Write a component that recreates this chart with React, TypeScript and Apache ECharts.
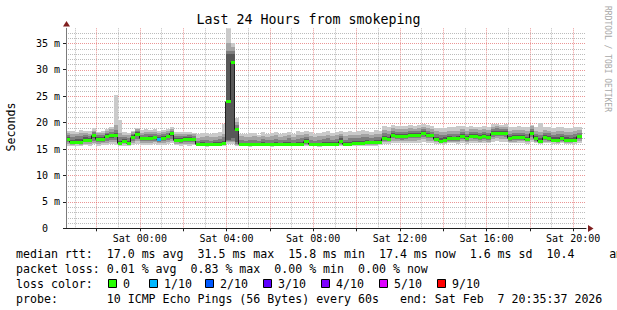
import React, { useEffect, useRef } from "react";
import * as echarts from "echarts";

// ---------- data (minutes relative to Sat 00:00) ----------
const START_MIN = -204.383; // Fri 20:35:37
const END_MIN = 1235.617; // Sat 20:35:37
const BIN_MIN = 12;
const FIRST_BIN = -204; // Fri 20:36

const medianMs = [
  16.9, 16.4, 16.4, 16.4, 16.8, 16.8, 17.6, 16.9, 16.9, 17.5,
  17.6, 17.6, 16.2, 16.6, 16.2, 17.3, 17.9, 17.0, 17.0, 17.1,
  17.2, 16.9, 17.1, 17.4, 18.0, 16.8, 16.8, 16.9, 16.9, 16.9,
  15.9, 15.9, 15.9, 15.9, 16.0, 16.0, 16.2, 24.0, 31.5, 18.8,
  15.9, 15.9, 15.9, 15.9, 15.9, 16.0, 15.9, 15.9, 16.0, 15.9,
  16.0, 16.0, 15.9, 16.0, 16.0, 16.5, 15.9, 15.9, 15.9, 16.0,
  16.0, 16.0, 16.0, 16.6, 16.0, 16.0, 16.1, 16.2, 16.2, 16.3,
  16.3, 16.3, 16.4, 17.0, 16.9, 17.7, 17.5, 17.4, 17.5, 17.6,
  17.6, 17.7, 18.0, 17.6, 17.6, 16.9, 16.5, 16.8, 17.0, 17.0,
  17.0, 17.4, 17.0, 17.5, 17.4, 17.2, 17.4, 17.2, 18.0, 18.1,
  18.1, 18.0, 17.0, 17.2, 17.2, 17.3, 16.9, 18.0, 17.0, 16.6,
  17.2, 17.1, 16.8, 16.8, 17.0, 16.8, 16.7, 16.8, 17.4,
];

const pingMin = [
  15.6, 15.5, 15.6, 15.5, 15.7, 15.6, 15.9, 15.6, 15.7, 15.8,
  15.9, 15.8, 15.5, 15.6, 15.5, 15.8, 16.0, 15.8, 15.7, 15.8,
  15.9, 15.7, 15.8, 15.9, 16.1, 15.7, 15.6, 15.7, 15.6, 15.7,
  15.5, 15.5, 15.4, 15.5, 15.5, 15.6, 15.6, 16.0, 16.0, 15.6,
  15.5, 15.5, 15.4, 15.5, 15.5, 15.5, 15.5, 15.4, 15.5, 15.5,
  15.5, 15.6, 15.5, 15.5, 15.5, 15.6, 15.5, 15.5, 15.4, 15.5,
  15.5, 15.5, 15.5, 15.6, 15.5, 15.5, 15.5, 15.6, 15.6, 15.6,
  15.6, 15.6, 15.7, 16.0, 16.0, 16.2, 16.1, 16.1, 16.2, 16.1,
  16.2, 16.2, 16.4, 16.2, 16.1, 16.0, 15.9, 16.0, 16.1, 16.1,
  16.0, 16.2, 16.0, 16.2, 16.1, 16.1, 16.2, 16.1, 16.4, 16.5,
  16.4, 16.4, 16.1, 16.1, 16.2, 16.2, 16.0, 16.3, 16.1, 15.9,
  16.1, 16.1, 16.0, 16.0, 16.1, 16.0, 16.0, 16.0, 16.2,
];
const ping2 = [
  15.9, 15.8, 15.9, 15.8, 16.0, 16.0, 16.2, 16.0, 16.1, 16.2,
  16.3, 16.3, 15.8, 15.9, 15.7, 16.2, 16.5, 16.2, 16.1, 16.2,
  16.3, 16.1, 16.2, 16.3, 16.5, 16.0, 15.9, 16.0, 16.0, 16.0,
  15.6, 15.6, 15.6, 15.6, 15.7, 15.7, 15.8, 16.3, 16.3, 15.8,
  15.6, 15.6, 15.6, 15.6, 15.6, 15.7, 15.6, 15.6, 15.7, 15.6,
  15.7, 15.7, 15.6, 15.7, 15.7, 15.8, 15.6, 15.6, 15.6, 15.7,
  15.7, 15.6, 15.7, 15.8, 15.7, 15.6, 15.7, 15.8, 15.7, 15.8,
  15.8, 15.8, 15.9, 16.3, 16.3, 16.6, 16.5, 16.5, 16.6, 16.6,
  16.6, 16.7, 16.9, 16.6, 16.6, 16.3, 16.1, 16.2, 16.4, 16.4,
  16.3, 16.6, 16.3, 16.6, 16.5, 16.4, 16.5, 16.4, 16.9, 17.0,
  16.9, 16.9, 16.4, 16.4, 16.5, 16.5, 16.3, 16.8, 16.4, 16.1,
  16.4, 16.4, 16.3, 16.2, 16.4, 16.2, 16.2, 16.3, 16.5,
];
const ping3 = [
  16.3, 16.0, 16.1, 16.1, 16.3, 16.3, 16.6, 16.4, 16.4, 16.6,
  16.7, 16.8, 16.0, 16.2, 15.9, 16.6, 16.9, 16.5, 16.5, 16.5,
  16.6, 16.4, 16.5, 16.7, 16.9, 16.3, 16.2, 16.3, 16.3, 16.3,
  15.7, 15.7, 15.7, 15.7, 15.8, 15.8, 15.9, 16.5, 16.6, 16.0,
  15.7, 15.7, 15.7, 15.7, 15.7, 15.8, 15.7, 15.7, 15.8, 15.7,
  15.8, 15.8, 15.7, 15.8, 15.8, 16.0, 15.7, 15.7, 15.7, 15.8,
  15.8, 15.8, 15.8, 16.0, 15.8, 15.8, 15.9, 15.9, 15.9, 16.0,
  16.0, 16.0, 16.1, 16.6, 16.5, 17.0, 16.9, 16.8, 16.9, 17.0,
  17.0, 17.1, 17.3, 17.0, 17.0, 16.5, 16.3, 16.4, 16.6, 16.6,
  16.6, 16.9, 16.6, 17.0, 16.9, 16.7, 16.9, 16.7, 17.3, 17.4,
  17.4, 17.3, 16.6, 16.7, 16.7, 16.8, 16.5, 17.2, 16.6, 16.3,
  16.7, 16.6, 16.5, 16.5, 16.6, 16.5, 16.4, 16.5, 16.9,
];
const ping4 = [
  16.6, 16.2, 16.2, 16.3, 16.5, 16.6, 17.0, 16.6, 16.6, 17.0,
  17.1, 17.2, 16.1, 16.4, 16.0, 16.9, 17.4, 16.8, 16.7, 16.8,
  16.9, 16.7, 16.8, 17.0, 17.4, 16.5, 16.5, 16.6, 16.6, 16.6,
  15.8, 15.8, 15.8, 15.8, 15.9, 15.9, 16.0, 16.8, 17.0, 16.3,
  15.8, 15.8, 15.8, 15.8, 15.8, 15.9, 15.8, 15.8, 15.9, 15.8,
  15.9, 15.9, 15.8, 15.9, 15.9, 16.2, 15.8, 15.8, 15.8, 15.9,
  15.9, 15.9, 15.9, 16.3, 15.9, 15.9, 16.0, 16.0, 16.0, 16.1,
  16.1, 16.1, 16.2, 16.8, 16.7, 17.4, 17.2, 17.1, 17.2, 17.3,
  17.3, 17.4, 17.7, 17.3, 17.3, 16.7, 16.4, 16.6, 16.8, 16.8,
  16.8, 17.1, 16.8, 17.2, 17.1, 16.9, 17.1, 16.9, 17.7, 17.8,
  17.8, 17.7, 16.8, 16.9, 16.9, 17.0, 16.7, 17.6, 16.8, 16.4,
  16.9, 16.8, 16.6, 16.6, 16.8, 16.6, 16.5, 16.6, 17.1,
];
const ping7 = [
  17.2, 16.8, 16.9, 16.9, 17.2, 17.1, 17.9, 17.2, 17.3, 17.8,
  17.9, 18.0, 16.6, 16.9, 16.6, 17.6, 18.2, 17.3, 17.3, 17.4,
  17.5, 17.2, 17.4, 17.7, 18.3, 17.1, 17.1, 17.2, 17.2, 17.1,
  16.2, 16.3, 16.2, 16.2, 16.3, 16.4, 16.6, 33.0, 33.0, 19.0,
  16.2, 16.1, 16.2, 16.2, 16.1, 16.3, 16.2, 16.2, 16.3, 16.2,
  16.3, 16.4, 16.2, 16.3, 16.4, 16.9, 16.2, 16.1, 16.2, 16.3,
  16.4, 16.3, 16.3, 17.0, 16.3, 16.4, 16.5, 16.6, 16.6, 16.7,
  16.6, 16.7, 16.8, 17.4, 17.3, 18.1, 17.9, 17.8, 17.9, 18.0,
  18.0, 18.1, 18.4, 18.0, 17.9, 17.3, 17.0, 17.2, 17.4, 17.3,
  17.4, 17.8, 17.4, 17.9, 17.8, 17.6, 17.8, 17.6, 18.4, 18.5,
  18.5, 18.4, 17.4, 17.6, 17.6, 17.7, 17.3, 18.4, 17.4, 17.0,
  17.6, 17.5, 17.2, 17.2, 17.4, 17.2, 17.1, 17.2, 17.7,
];
const ping8 = [
  17.6, 17.3, 17.4, 17.5, 17.6, 17.5, 18.2, 17.6, 17.7, 18.1,
  18.3, 18.6, 17.2, 17.3, 17.1, 17.9, 18.4, 17.7, 17.8, 17.8,
  17.9, 17.6, 17.8, 18.0, 18.5, 17.5, 17.5, 17.5, 17.6, 17.4,
  16.6, 16.8, 16.7, 16.6, 16.8, 16.9, 17.2, 33.5, 33.6, 19.6,
  16.8, 16.6, 16.7, 16.8, 16.6, 16.9, 16.7, 16.8, 16.9, 16.7,
  16.8, 17.0, 16.7, 16.9, 17.0, 17.3, 16.8, 16.6, 16.7, 16.9,
  17.0, 16.8, 16.9, 17.4, 16.8, 17.0, 17.0, 17.1, 17.2, 17.2,
  17.1, 17.3, 17.3, 18.0, 17.9, 18.5, 18.3, 18.2, 18.3, 18.4,
  18.4, 18.5, 18.8, 18.4, 18.3, 17.8, 17.6, 17.7, 17.9, 17.8,
  17.9, 18.2, 17.9, 18.3, 18.2, 18.1, 18.2, 18.1, 18.8, 18.9,
  18.8, 18.8, 17.9, 18.0, 18.1, 18.1, 17.8, 18.8, 17.9, 17.6,
  18.0, 18.0, 17.7, 17.8, 17.9, 17.7, 17.7, 17.8, 18.1,
];
const ping9 = [
  18.0, 17.8, 17.9, 18.0, 18.0, 17.9, 18.5, 18.0, 18.1, 18.4,
  18.7, 19.5, 18.0, 17.7, 17.6, 18.2, 18.7, 18.1, 18.2, 18.2,
  18.3, 18.0, 18.2, 18.4, 18.8, 17.9, 17.8, 17.9, 17.9, 17.8,
  17.1, 17.3, 17.4, 17.2, 17.3, 17.5, 17.9, 35.0, 34.3, 20.2,
  17.4, 17.2, 17.3, 17.5, 17.2, 17.5, 17.3, 17.4, 17.6, 17.3,
  17.4, 17.6, 17.2, 17.6, 17.7, 17.8, 17.5, 17.2, 17.4, 17.5,
  17.7, 17.4, 17.6, 17.9, 17.5, 17.7, 17.6, 17.7, 17.9, 17.8,
  17.7, 17.9, 17.9, 18.6, 18.5, 19.0, 18.8, 18.7, 18.8, 18.9,
  18.8, 19.0, 19.2, 18.9, 18.8, 18.4, 18.2, 18.3, 18.5, 18.4,
  18.5, 18.7, 18.5, 18.8, 18.7, 18.6, 18.7, 18.6, 19.2, 19.3,
  19.2, 19.2, 18.5, 18.6, 18.6, 18.6, 18.4, 19.3, 18.5, 18.2,
  18.6, 18.5, 18.3, 18.4, 18.5, 18.3, 18.3, 18.4, 18.6,
];
const pingMax = [
  18.4, 18.4, 18.3, 18.6, 18.4, 18.5, 18.9, 18.3, 18.5, 18.8,
  19.1, 25.2, 20.5, 18.2, 18.1, 18.5, 19.0, 18.6, 18.7, 18.6,
  18.7, 18.5, 18.6, 18.8, 19.1, 18.3, 18.2, 18.3, 18.2, 18.1,
  17.8, 18.0, 18.1, 17.9, 18.0, 18.2, 19.8, 38.5, 35.1, 20.8,
  17.9, 17.8, 18.0, 18.1, 17.7, 18.2, 17.8, 18.0, 18.3, 17.9,
  18.1, 18.2, 17.8, 18.4, 18.3, 18.4, 18.2, 17.8, 18.1, 18.2,
  18.4, 18.0, 18.3, 18.5, 18.2, 18.4, 18.2, 18.4, 18.6, 18.5,
  18.3, 18.6, 18.5, 19.3, 19.1, 19.6, 19.4, 19.3, 19.4, 19.5,
  19.3, 19.6, 19.7, 19.5, 19.3, 19.0, 18.9, 19.0, 19.2, 19.1,
  19.3, 19.3, 19.2, 19.4, 19.2, 19.2, 19.3, 19.2, 19.7, 19.8,
  19.6, 19.7, 19.1, 19.2, 19.3, 19.2, 19.1, 19.6, 19.2, 19.9,
  19.2, 19.1, 19.0, 19.1, 19.2, 18.9, 19.0, 19.1, 19.2,
];
const lossPct = [
  0, 0, 0, 0, 0, 0, 0, 0, 0, 0,
  0, 0, 0, 0, 0, 0, 0, 0, 0, 0,
  0, 0.83, 0, 0, 0, 0, 0, 0, 0, 0,
  0, 0, 0, 0, 0, 0, 0, 0, 0, 0,
  0, 0, 0, 0, 0, 0, 0, 0, 0, 0,
  0, 0, 0, 0, 0, 0, 0, 0, 0, 0,
  0, 0, 0, 0, 0, 0, 0, 0, 0, 0,
  0, 0, 0, 0, 0, 0, 0, 0, 0, 0,
  0, 0, 0, 0, 0, 0, 0, 0, 0, 0,
  0, 0, 0, 0, 0, 0, 0, 0, 0, 0,
  0, 0, 0, 0, 0, 0, 0, 0, 0, 0,
  0, 0, 0, 0, 0, 0, 0, 0, 0,
];

const gridHours = [
  -180, -120, -60, 0, 60, 120, 180, 240, 300, 360, 420, 480, 540, 600,
  660, 720, 780, 840, 900, 960, 1020, 1080, 1140, 1200,
];
const xTickMinutes = [-120, 0, 120, 240, 360, 480, 600, 720, 840, 960, 1080, 1200];
const xLabelMinutes = [0, 240, 480, 720, 960, 1200];
const xLabelTexts = ["Sat 00:00", "Sat 04:00", "Sat 08:00", "Sat 12:00", "Sat 16:00", "Sat 20:00"];
const yGridMs = [
  1, 2, 3, 4, 5, 6, 7, 8, 9, 10, 11, 12, 13, 14, 15, 16, 17, 18, 19, 20,
  21, 22, 23, 24, 25, 26, 27, 28, 29, 30, 31, 32, 33, 34, 35, 36, 37,
];
const yTicks = [0, 5, 10, 15, 20, 25, 30, 35];
const Y_MAX = 37.84;

const lossThresholds = [0, 1, 2, 3, 4, 5, 9];
const lossLabels = ["0", "1/10", "2/10", "3/10", "4/10", "5/10", "9/10"];
const lossColors = ["#26ff00", "#00b8ff", "#0059ff", "#5e00ff", "#7e00ff", "#dd00ff", "#ff0000"];

const legendLines = [
  "median rtt:  17.0 ms avg  31.5 ms max  15.8 ms min  17.4 ms now  1.6 ms sd  10.4     am/s",
  "packet loss: 0.01 % avg  0.83 % max  0.00 % min  0.00 % now",
  "loss color:",
  "probe:       10 ICMP Echo Pings (56 Bytes) every 60s   end: Sat Feb  7 20:35:37 2026",
];

// ---------- styling ----------
const MONO = '"DejaVu Sans Mono", monospace';
const SMOKE_COLORS = ["#cacaca", "#a4a4a4", "#7e7e7e", "#585858"];
const GRID_MINOR = "rgba(143,143,143,0.6)";
const GRID_MAJOR = "rgba(222,79,79,0.6)";
const ARROW = "#801f1f";

const nb = (s: string) => s.replace(/ /g, "\u00a0");

function lossColor(pct: number) {
  const lost = (pct / 100) * 10;
  for (let i = 0; i < lossThresholds.length; i++) {
    if (lost <= lossThresholds[i]) return lossColors[i];
  }
  return lossColors[lossColors.length - 1];
}

export default function App() {
  const ref = useRef<HTMLDivElement>(null);

  useEffect(() => {
    if (!ref.current) return;
    const chart = echarts.init(ref.current, null, { renderer: "svg" });

    const rows = medianMs.map((m, k) => [
      FIRST_BIN + k * BIN_MIN,
      pingMin[k], ping2[k], ping3[k], ping4[k],
      ping7[k], ping8[k], ping9[k], pingMax[k],
      m, lossPct[k], k + 1 < medianMs.length ? medianMs[k + 1] : m,
    ]);

    const binPx = (api: any, cs: any) => {
      const xs = api.coord([api.value(0), 0])[0];
      const xe = api.coord([api.value(0) + BIN_MIN, 0])[0];
      const X0 = Math.max(Math.round(xs), cs.x);
      const X1 = Math.min(Math.round(xe), cs.x + cs.width);
      return [X0, X1];
    };

    const legendGraphics: any[] = [];
    const legendY = [254, 269, 284, 299];
    legendLines.forEach((t, i) => {
      legendGraphics.push({
        type: "text",
        x: 16,
        y: legendY[i],
        silent: true,
        style: {
          text: nb(t), fill: "#000", fontFamily: MONO, fontSize: 11.6,
          verticalAlign: "middle", textVerticalAlign: "middle",
        },
      });
    });
    const boxX = [108, 149, 205, 263, 321, 379, 437];
    lossLabels.forEach((lab, i) => {
      legendGraphics.push({
        type: "rect",
        silent: true,
        shape: { x: boxX[i] + 0.5, y: legendY[2] - 4.5, width: 8, height: 8 },
        style: { fill: lossColors[i], stroke: "#000", lineWidth: 1 },
      });
      legendGraphics.push({
        type: "text",
        x: boxX[i] + 15,
        y: legendY[2],
        silent: true,
        style: {
          text: lab, fill: "#000", fontFamily: MONO, fontSize: 11.6,
          verticalAlign: "middle", textVerticalAlign: "middle",
        },
      });
    });

    const option: any = {
      animation: false,
      backgroundColor: "#ffffff",
      grid: { left: 66, top: 28.3, width: 520, height: 200 },
      xAxis: {
        type: "value",
        min: START_MIN,
        max: END_MIN,
        z: 10,
        axisLine: { show: true, onZero: false, lineStyle: { color: "#202020", width: 1 } },
        axisTick: {
          show: true, customValues: xTickMinutes, length: 3,
          lineStyle: { color: "#202020" },
        },
        axisLabel: {
          customValues: xLabelMinutes,
          formatter: (v: number) => {
            const i = xLabelMinutes.indexOf(Math.round(v));
            return i >= 0 ? xLabelTexts[i] : "";
          },
          fontFamily: MONO, fontSize: 10, color: "#000", margin: 5,
        },
        splitLine: { show: false },
      },
      yAxis: {
        type: "value",
        min: 0,
        max: Y_MAX,
        interval: 5,
        z: 10,
        axisLine: { show: true, onZero: false, lineStyle: { color: "#7a7a7a", width: 1 } },
        axisTick: {
          show: true, customValues: yTicks, length: 3,
          lineStyle: { color: "#202020" },
        },
        axisLabel: {
          customValues: yTicks,
          formatter: (v: number) => (v === 0 ? "0\u00a0\u00a0" : yTicks.includes(v) ? v + "\u00a0m" : ""),
          fontFamily: MONO, fontSize: 10, color: "#000", margin: 6,
        },
        splitLine: { show: false },
      },
      series: [
        {
          // vertical grid
          type: "custom",
          silent: true,
          z: 1,
          data: gridHours.map((m) => [m, m % 120 === 0 ? 1 : 0]),
          renderItem: (params: any, api: any) => {
            const cs = params.coordSys;
            const x = Math.round(api.coord([api.value(0), 0])[0]) + 0.5;
            return {
              type: "line",
              shape: { x1: x, y1: cs.y, x2: x, y2: cs.y + cs.height },
              style: { stroke: api.value(1) ? GRID_MAJOR : GRID_MINOR, lineWidth: 1, lineDash: [1, 1] },
            };
          },
        },
        {
          // horizontal grid
          type: "custom",
          silent: true,
          z: 1,
          data: yGridMs.map((v) => [START_MIN, v, v % 5 === 0 ? 1 : 0]),
          renderItem: (params: any, api: any) => {
            const cs = params.coordSys;
            const y = Math.round(api.coord([START_MIN, api.value(1)])[1]) + 0.5;
            return {
              type: "line",
              shape: { x1: cs.x, y1: y, x2: cs.x + cs.width, y2: y },
              style: { stroke: api.value(2) ? GRID_MAJOR : GRID_MINOR, lineWidth: 1, lineDash: [1, 1] },
            };
          },
        },
        {
          // smoke
          type: "custom",
          silent: true,
          z: 2,
          data: rows,
          renderItem: (params: any, api: any) => {
            const cs = params.coordSys;
            const top = cs.y;
            const bottom = cs.y + cs.height;
            const [X0, X1] = binPx(api, cs);
            const Y = (v: number) =>
              Math.min(bottom, Math.max(top, Math.round(api.coord([0, v])[1])));
            const pairs = [[1, 8], [2, 7], [3, 6], [4, 5]];
            return {
              type: "group",
              children: pairs.map(([lo, hi], i) => {
                const y1 = Y(api.value(hi));
                const y2 = Y(api.value(lo));
                return {
                  type: "rect",
                  shape: { x: X0, y: y1, width: X1 - X0, height: Math.max(1, y2 - y1) },
                  style: { fill: SMOKE_COLORS[i] },
                };
              }),
            };
          },
        },
        {
          // median thin dark line
          type: "custom",
          silent: true,
          z: 3,
          data: rows,
          renderItem: (params: any, api: any) => {
            const cs = params.coordSys;
            const [X0, X1] = binPx(api, cs);
            const y = Math.round(api.coord([0, api.value(9)])[1]) + 0.5;
            const yn = Math.round(api.coord([0, api.value(11)])[1]) + 0.5;
            return {
              type: "group",
              children: [
                { type: "line", shape: { x1: X0, y1: y, x2: X1, y2: y }, style: { stroke: "#202020", lineWidth: 1 } },
                { type: "line", shape: { x1: X1 - 0.5, y1: y, x2: X1 - 0.5, y2: yn }, style: { stroke: "#202020", lineWidth: 1 } },
              ],
            };
          },
        },
        {
          // median coloured by loss
          type: "custom",
          silent: true,
          z: 4,
          data: rows,
          renderItem: (params: any, api: any) => {
            const cs = params.coordSys;
            const [X0, X1] = binPx(api, cs);
            const y = Math.round(api.coord([0, api.value(9)])[1]);
            return {
              type: "rect",
              shape: { x: X0, y: y - 1, width: X1 - X0, height: 3 },
              style: { fill: lossColor(api.value(10)) },
            };
          },
        },
      ],
      graphic: [
        {
          type: "text",
          x: 308.5,
          y: 19,
          silent: true,
          style: {
            text: "Last 24 Hours from smokeping", fill: "#000", fontFamily: MONO, fontSize: 13.3,
            align: "center", verticalAlign: "middle", textAlign: "center", textVerticalAlign: "middle",
          },
        },
        {
          type: "text",
          x: 11,
          y: 127,
          rotation: Math.PI / 2,
          silent: true,
          style: {
            text: "Seconds", fill: "#000", fontFamily: MONO, fontSize: 11.6,
            align: "center", verticalAlign: "middle", textAlign: "center", textVerticalAlign: "middle",
          },
        },
        {
          type: "text",
          x: 607.5,
          y: 59,
          rotation: -Math.PI / 2,
          silent: true,
          style: {
            text: nb("RRDTOOL / TOBI OETIKER"), fill: "#a8a8a8", fontFamily: MONO, fontSize: 8,
            align: "center", verticalAlign: "middle", textAlign: "center", textVerticalAlign: "middle",
          },
        },
        {
          type: "polygon",
          silent: true,
          z: 20,
          shape: { points: [[588, 225], [593.5, 228.5], [588, 232]] },
          style: { fill: ARROW },
        },
        {
          type: "polygon",
          silent: true,
          z: 20,
          shape: { points: [[63, 26.5], [66.5, 21], [70, 26.5]] },
          style: { fill: ARROW },
        },
        ...legendGraphics,
      ],
    };

    chart.setOption(option);
    return () => chart.dispose();
  }, []);

  return (
    <div
      ref={ref}
      style={{ position: "absolute", left: 0, top: 0, width: 617, height: 310, background: "#fff" }}
    />
  );
}
